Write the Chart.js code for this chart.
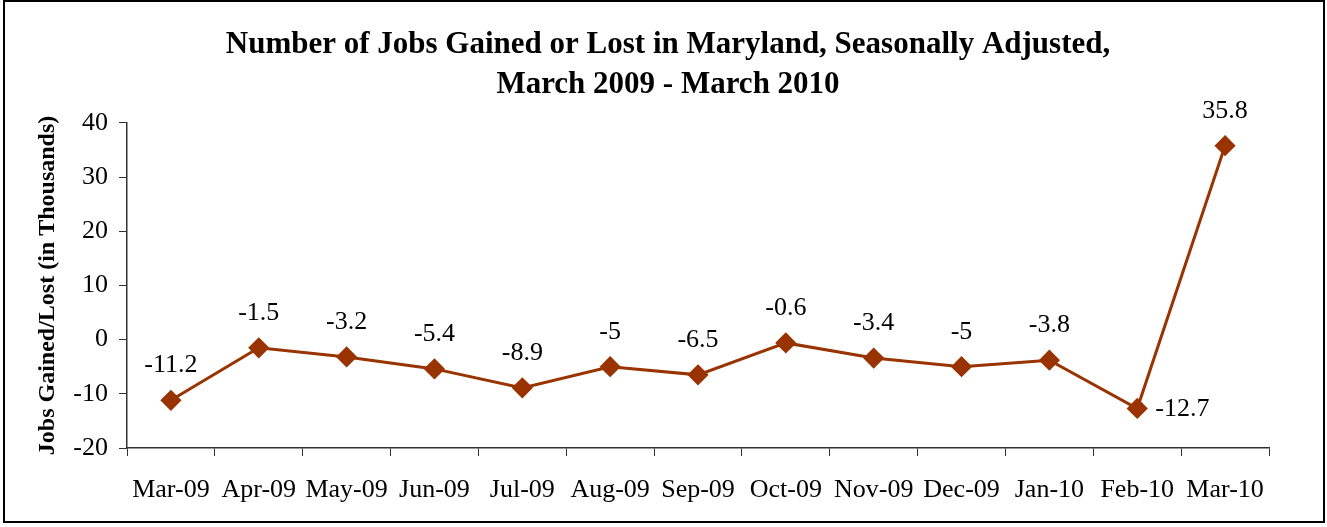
<!DOCTYPE html>
<html>
<head>
<meta charset="utf-8">
<script src="https://cdn.jsdelivr.net/npm/chart.js@4.4.1/dist/chart.umd.min.js"></script>
<style>
  html, body { margin: 0; padding: 0; background: #fff; }
  #wrap { width: 1327px; height: 527px; position: relative; }
</style>
</head>
<body>
<div id="wrap"><canvas id="myChart" width="1327" height="527"></canvas></div>
<script>
'use strict';

const months = ['Mar-09', 'Apr-09', 'May-09', 'Jun-09', 'Jul-09', 'Aug-09', 'Sep-09',
                'Oct-09', 'Nov-09', 'Dec-09', 'Jan-10', 'Feb-10', 'Mar-10'];
const jobsChange = [-11.2, -1.5, -3.2, -5.4, -8.9, -5, -6.5, -0.6, -3.4, -5, -3.8, -12.7, 35.8];
const yTicks = [-20, -10, 0, 10, 20, 30, 40];

const serif = '"Liberation Serif", "Times New Roman", serif';
const lineColor = '#993300';

// labels drawn next to each point (Feb-10 sits to the right)
const valueLabels = {
    id: 'valueLabels',
    afterDatasetsDraw(chart) {
        const ctx = chart.ctx;
        const meta = chart.getDatasetMeta(0);
        ctx.save();
        ctx.font = '26px ' + serif;
        ctx.fillStyle = '#000';
        ctx.textBaseline = 'middle';
        meta.data.forEach(function (pt, i) {
            const v = jobsChange[i];
            if (i === 11) {
                ctx.textAlign = 'left';
                ctx.fillText(String(v), pt.x + 18, pt.y + 1);
            } else {
                ctx.textAlign = 'center';
                ctx.fillText(String(v), pt.x, pt.y - 35);
            }
        });
        ctx.restore();
    }
};

const frame = {
    id: 'frame',
    afterDraw(chart) {
        const ctx = chart.ctx;
        ctx.save();
        ctx.strokeStyle = '#000';
        ctx.lineWidth = 2;
        ctx.strokeRect(4, 1, 1320, 521);
        ctx.restore();
    }
};

const ctx = document.getElementById('myChart');
const myChart = new Chart(ctx, {
    type: 'line',
    data: {
        labels: months,
        datasets: [{
            data: jobsChange,
            borderColor: lineColor,
            backgroundColor: lineColor,
            borderWidth: 3,
            pointStyle: 'rectRot',
            pointRadius: 8.5,
            pointHoverRadius: 8.5,
            tension: 0
        }]
    },
    options: {
        responsive: false,
        animation: false,
        events: [],
        layout: { padding: { left: 9, right: 0, top: 0, bottom: 0 } },
        plugins: {
            legend: { display: false },
            tooltip: { enabled: false },
            title: {
                display: true,
                text: ['Number of Jobs Gained or Lost in Maryland, Seasonally Adjusted,',
                       'March 2009 - March 2010'],
                color: '#000',
                font: { family: serif, size: 31, weight: 'bold', lineHeight: 1.28 },
                padding: { top: 25, bottom: 18.6 }
            }
        },
        scales: {
            x: {
                offset: true,
                grid: {
                    offset: true,
                    drawOnChartArea: false,
                    drawTicks: true,
                    tickLength: 8,
                    color: '#333'
                },
                border: { color: '#333', width: 1.5 },
                ticks: {
                    color: '#000',
                    font: { family: serif, size: 26 },
                    padding: 19,
                    maxRotation: 0,
                    autoSkip: false
                },
                afterFit(scale) { scale.height = 79; }
            },
            y: {
                min: -20,
                max: 40,
                afterBuildTicks(scale) {
                    scale.ticks = yTicks.map(function (v) { return { value: v }; });
                },
                grid: {
                    drawOnChartArea: false,
                    drawTicks: true,
                    tickLength: 8,
                    color: '#333'
                },
                border: { color: '#333', width: 1.5 },
                ticks: {
                    color: '#000',
                    font: { family: serif, size: 26 },
                    padding: 11
                },
                title: {
                    display: true,
                    text: 'Jobs Gained/Lost (in Thousands)',
                    color: '#000',
                    font: { family: serif, size: 24, weight: 'bold' },
                    padding: { top: 24, bottom: 0 }
                },
                afterFit(scale) { scale.width = 118; }
            },
            // empty right-hand spacer so the plot ends where the original does
            spacer: {
                type: 'linear',
                position: 'right',
                display: true,
                grid: { display: false },
                border: { display: false },
                ticks: { display: false },
                afterFit(scale) { scale.width = 58; }
            }
        }
    },
    plugins: [valueLabels, frame]
});
</script>
</body>
</html>
